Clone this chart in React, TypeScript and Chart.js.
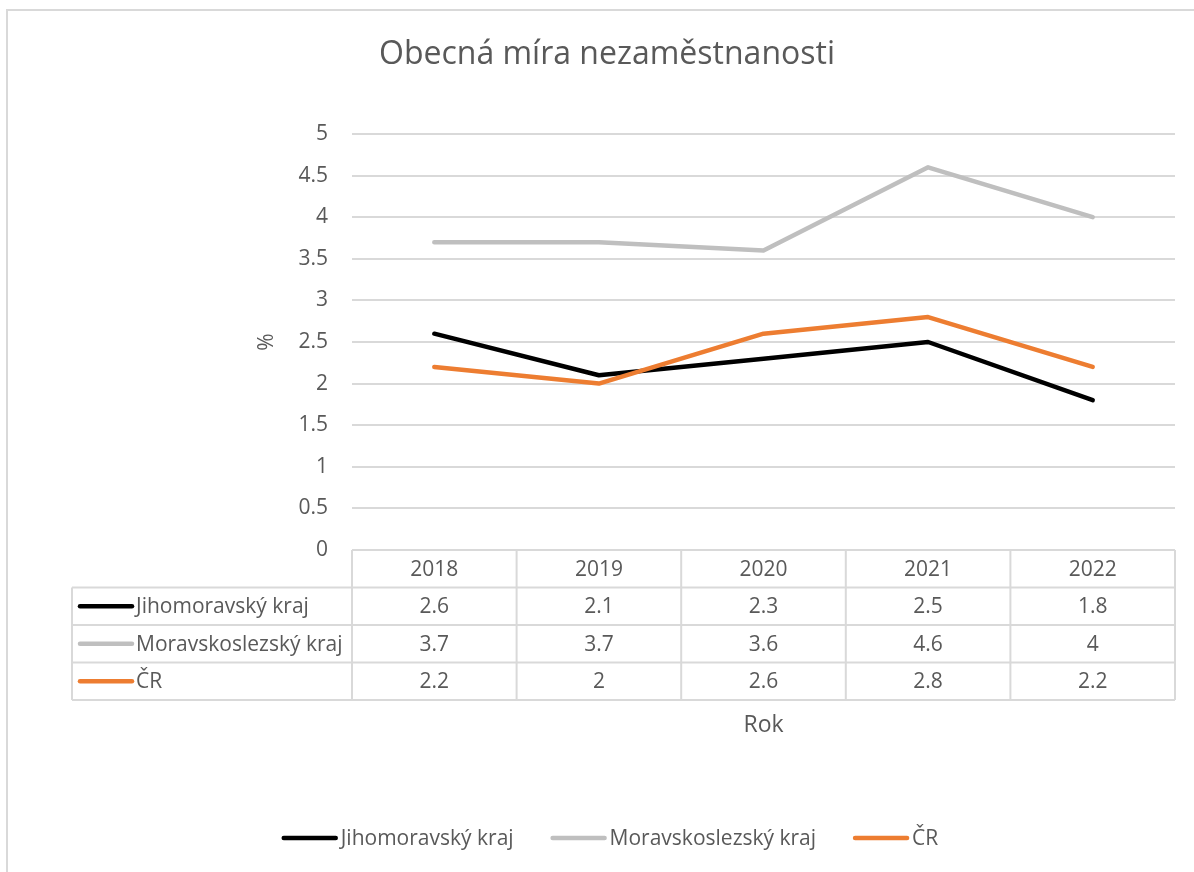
import React, { useEffect, useRef } from "react";
import { Chart, registerables } from "chart.js";

Chart.register(...registerables);

const categories = ["2018", "2019", "2020", "2021", "2022"];
const jihomoravsky = [2.6, 2.1, 2.3, 2.5, 1.8];
const moravskoslezsky = [3.7, 3.7, 3.6, 4.6, 4];
const cr = [2.2, 2, 2.6, 2.8, 2.2];
const seriesNames = ["Jihomoravský kraj", "Moravskoslezský kraj", "ČR"];
const seriesValues = [jihomoravsky, moravskoslezsky, cr];
const seriesColors = ["#000000", "#BFBFBF", "#ED7D31"];
const valueLabels = [
  ["2.6", "2.1", "2.3", "2.5", "1.8"],
  ["3.7", "3.7", "3.6", "4.6", "4"],
  ["2.2", "2", "2.6", "2.8", "2.2"],
];
const titleText = "Obecná míra nezaměstnanosti";
const yTitle = "%";
const xTitle = "Rok";
const yMin = 0;
const yMax = 5;
const yStep = 0.5;

const FONT = '"Open Sans", "Noto Sans", sans-serif';
const TEXT = "#595959";
const GRID = "#D9D9D9";
const FS = 21;

const tablePlugin = {
  id: "excelTable",
  afterDraw(chart: any) {
    const ctx = chart.ctx as CanvasRenderingContext2D;
    const area = chart.chartArea;
    const xs = chart.scales.x;
    const n = categories.length;
    const colW = (area.right - area.left) / n;
    const top = area.bottom;
    const rowH = 37.5;
    const leftX = 72;
    const rows = seriesNames.length;
    const bottom = top + rowH * (rows + 1);
    const centerX = 607;

    ctx.save();
    // title
    ctx.fillStyle = TEXT;
    ctx.font = `32px ${FONT}`;
    ctx.textAlign = "center";
    ctx.textBaseline = "middle";
    ctx.fillText(titleText, centerX, 55);

    // y title
    ctx.save();
    ctx.translate(267, 342);
    ctx.rotate(-Math.PI / 2);
    ctx.font = `${FS}px ${FONT}`;
    ctx.fillText(yTitle, 0, 0);
    ctx.restore();

    // table lines
    ctx.strokeStyle = GRID;
    ctx.lineWidth = 2;
    ctx.beginPath();
    ctx.moveTo(area.left, top);
    ctx.lineTo(area.right, top);
    for (let r = 1; r <= rows + 1; r++) {
      const y = top + r * rowH;
      ctx.moveTo(leftX, y);
      ctx.lineTo(area.right, y);
    }
    for (let i = 0; i <= n; i++) {
      const x = area.left + i * colW;
      ctx.moveTo(x, top);
      ctx.lineTo(x, bottom);
    }
    ctx.moveTo(leftX, top + rowH);
    ctx.lineTo(leftX, bottom);
    ctx.stroke();

    // header
    ctx.fillStyle = TEXT;
    ctx.font = `${FS}px ${FONT}`;
    ctx.textAlign = "center";
    ctx.textBaseline = "middle";
    categories.forEach((c, i) => {
      ctx.fillText(c, xs.getPixelForValue(i), top + rowH / 2 + 1);
    });
    // rows
    for (let r = 0; r < rows; r++) {
      const cy = top + rowH * (r + 1) + rowH / 2 + 1;
      valueLabels[r].forEach((v, i) => {
        ctx.textAlign = "center";
        ctx.fillText(v, xs.getPixelForValue(i), cy);
      });
      ctx.strokeStyle = seriesColors[r];
      ctx.lineWidth = 4.5;
      ctx.lineCap = "round";
      ctx.beginPath();
      ctx.moveTo(80, cy - 1);
      ctx.lineTo(132, cy - 1);
      ctx.stroke();
      ctx.textAlign = "left";
      ctx.fillText(seriesNames[r], 136, cy);
    }

    // x title
    ctx.textAlign = "center";
    ctx.font = `23px ${FONT}`;
    ctx.fillText(xTitle, (area.left + area.right) / 2, 725);

    // legend
    ctx.font = `${FS}px ${FONT}`;
    const lineLen = 56;
    const gap = 3;
    const spacing = 37;
    const widths = seriesNames.map((s) => ctx.measureText(s).width);
    const total =
      widths.reduce((a, w) => a + lineLen + gap + w, 0) + spacing * (widths.length - 1);
    let x = centerX + 3 - total / 2;
    const ly = 838;
    seriesNames.forEach((s, i) => {
      ctx.strokeStyle = seriesColors[i];
      ctx.lineWidth = 4.5;
      ctx.lineCap = "round";
      ctx.beginPath();
      ctx.moveTo(x + 2, ly);
      ctx.lineTo(x + lineLen - 2, ly);
      ctx.stroke();
      ctx.textAlign = "left";
      ctx.fillStyle = TEXT;
      ctx.fillText(s, x + lineLen + gap, ly + 1);
      x += lineLen + gap + widths[i] + spacing;
    });
    ctx.restore();
  },
};

export default function App() {
  const ref = useRef<HTMLCanvasElement>(null);
  useEffect(() => {
    if (!ref.current) return;
    const chart = new Chart(ref.current, {
      type: "line",
      data: {
        labels: categories,
        datasets: seriesNames.map((name, i) => ({
          label: name,
          data: seriesValues[i],
          borderColor: seriesColors[i],
          backgroundColor: seriesColors[i],
          borderWidth: 4.5,
          pointRadius: 0,
          tension: 0,
          borderCapStyle: "round",
          borderJoinStyle: "round",
          order: seriesNames.length - i,
        })),
      },
      options: {
        animation: false,
        responsive: false,
        devicePixelRatio: 1,
        layout: { padding: { top: 134, bottom: 322, left: 0, right: 19 } },
        plugins: {
          legend: { display: false },
          title: { display: false },
          tooltip: { enabled: false },
        },
        scales: {
          x: {
            type: "category",
            offset: true,
            grid: { display: false },
            border: { display: false },
            ticks: { display: false },
            afterFit: (s: any) => {
              s.height = 0;
            },
          },
          y: {
            min: yMin,
            max: yMax,
            grid: { color: GRID, lineWidth: 2, drawTicks: false },
            border: { display: false },
            ticks: {
              stepSize: yStep,
              padding: 24,
              color: TEXT,
              font: { family: FONT, size: FS },
              callback: (v: any) => String(Number(v)),
            },
            afterFit: (s: any) => {
              s.width = 352;
            },
          },
        },
      },
      plugins: [tablePlugin],
    } as any);
    return () => chart.destroy();
  }, []);
  return (
    <div
      style={{
        position: "absolute",
        left: 0,
        top: 0,
        width: 1194,
        height: 872,
        overflow: "hidden",
        background: "#fff",
      }}
    >
      <div
        style={{
          position: "absolute",
          left: 6,
          top: 9,
          width: 1300,
          height: 1000,
          borderLeft: `2px solid ${GRID}`,
          borderTop: `2px solid ${GRID}`,
        }}
      />
      <canvas
        ref={ref}
        width={1194}
        height={872}
        style={{ position: "absolute", left: 0, top: 0, width: 1194, height: 872 }}
      />
    </div>
  );
}
